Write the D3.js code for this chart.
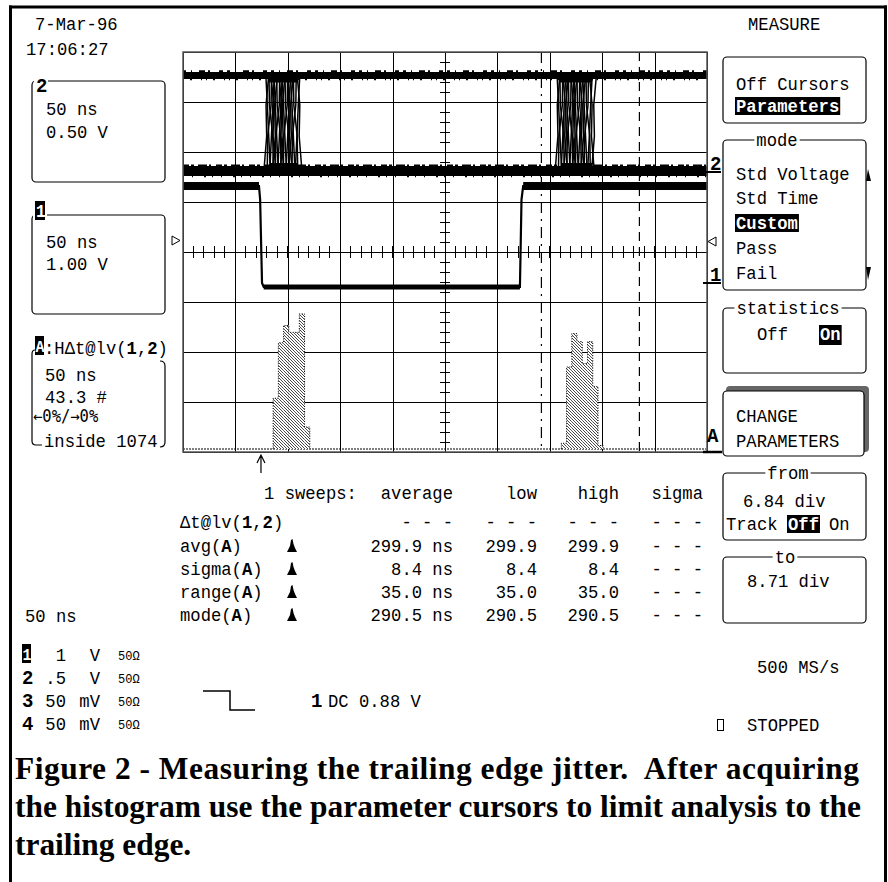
<!DOCTYPE html>
<html><head><meta charset="utf-8">
<script src="https://cdn.jsdelivr.net/npm/d3@7/dist/d3.min.js"></script>
<style>
html,body{margin:0;padding:0;background:#fff;}
svg text{font-family:"Liberation Mono","DejaVu Sans Mono",monospace;font-size:17.2px;fill:#000;white-space:pre;}
</style></head><body>
<svg id="c" width="888" height="882"></svg>
<script>
// ---------------- data ----------------
const dateLabel = "7-Mar-96";
const timeLabel = "17:06:27";
const nsPerDiv = 50;
const divsX = 10, divsY = 8;
// channel 1 (in divisions from screen centre)
const ch1Times  = [0, 72.5, 73.6, 75.4, 77.0, 321.5, 323.0, 324.6, 500];
const ch1Levels = [1.32, 1.32, 1.05, -0.62, -0.70, -0.70, 1.05, 1.32, 1.32];
// channel 2 levels (div) and jittered edge times (ns), overlaid sweeps
const ch2High = 3.53, ch2Low = 1.62;
const ch2EdgesA = [79.5, 81.2, 82.4, 84.1, 85.0, 86.3, 87.7, 88.8, 90.2, 91.5, 92.6, 93.9, 95.1, 96.6, 97.8, 99.4, 100.5, 101.9, 103.0, 104.7, 106.0, 107.4, 109.3, 111.2];
const ch2EdgesB = [357.4, 359.1, 360.3, 361.7, 363.0, 364.6, 365.5, 367.2, 368.3, 369.8, 371.0, 372.4, 373.7, 375.1, 376.5, 378.0, 379.2, 380.6, 381.9, 383.5, 384.8, 386.6, 388.3, 390.1, 392.2];
// histogram of Δt@lv(1,2)
const histBinNs = 5;
const hist1Start = 86,  hist1Counts = [44, 92, 107, 101, 101, 117, 19];
const hist2Start = 361, hist2Counts = [5, 71, 100, 93, 74, 93, 54, 3];
const histPerDiv = 43.3;
// parameter cursors (div) and trigger (ns)
const cursorFrom = 6.84, cursorTo = 8.71;
const triggerTime = 74.4;
// statistics table
const sweepsLabel = "1 sweeps:";
const statHeaders = ["average", "low", "high", "sigma"];
const statNames = ["avg", "sigma", "range", "mode"];
const statAverage = ["299.9 ns", "8.4 ns", "35.0 ns", "290.5 ns"];
const statLow = ["299.9", "8.4", "35.0", "290.5"];
const statHigh = ["299.9", "8.4", "35.0", "290.5"];
const statSigma = ["- - -", "- - -", "- - -", "- - -"];
// channel legend
const legendChan = ["1", "2", "3", "4"];
const legendVal = ["1", ".5", "50", "50"];
const legendUnit = ["V", "V", "mV", "mV"];
const legendImp = ["50Ω", "50Ω", "50Ω", "50Ω"];
const captionLines = [
  "Figure 2 - Measuring the trailing edge jitter.  After acquiring",
  "the histogram use the parameter cursors to limit analysis to the",
  "trailing edge."
];

// ---------------- drawing ----------------
const CW = 10.32;
const KY = 1.1; // vertical stretch of the scope font
const svg = d3.select("#c");
const defs = svg.append("defs");
const pat = defs.append("pattern").attr("id","hatch").attr("width",3).attr("height",3)
  .attr("patternUnits","userSpaceOnUse");
pat.append("rect").attr("width",3).attr("height",3).attr("fill","#fff");
pat.append("path").attr("d","M-1,-1 L4,4 M-1,2 L1,4 M2,-1 L4,1").attr("stroke","#333").attr("stroke-width",0.9);

function T(sel, x, y, str, o = {}) {
  const e = sel.append("text").attr("x", x).attr("y", y).text(str);
  if (o.anchor) e.attr("text-anchor", o.anchor);
  if (o.bold) e.attr("font-weight", "bold");
  if (o.size) e.style("font-size", o.size + "px");
  if (o.fill) e.style("fill", o.fill);
  if (o.family) e.style("font-family", o.family);
  if (!o.serif) e.attr("transform", `matrix(1,0,0,${KY},0,${y * (1 - KY)})`);
  return e;
}
function R(sel, x, y, parts, o = {}) {
  const e = sel.append("text").attr("x", x).attr("y", y)
    .attr("transform", `matrix(1,0,0,${KY},0,${y * (1 - KY)})`);
  if (o.anchor) e.attr("text-anchor", o.anchor);
  parts.forEach(p => {
    const s = e.append("tspan").text(p[0]);
    if (p[1]) s.attr("font-weight", "bold");
  });
  return e;
}
function INV(sel, x, y, str, o = {}) {
  const w = str.length * CW;
  sel.append("rect").attr("x", x - 1).attr("y", y - 15).attr("width", w + 2).attr("height", o.h || 18).attr("fill", "#000");
  return T(sel, x, y, str, {bold: true, fill: "#fff", size: o.size});
}

// outer frame
svg.append("rect").attr("x", 9).attr("y", 5.5).attr("width", 878).attr("height", 3).attr("fill", "#000");
svg.append("rect").attr("x", 9).attr("y", 5.5).attr("width", 3).attr("height", 877).attr("fill", "#000");
svg.append("rect").attr("x", 884).attr("y", 5.5).attr("width", 3).attr("height", 877).attr("fill", "#000");

// scales
const X0 = 183, X1 = 707, Y0 = 52, Y1 = 452;
const x = d3.scaleLinear().domain([0, divsX * nsPerDiv]).range([X0, X1]);
const xd = d3.scaleLinear().domain([0, divsX]).range([X0, X1]);
const y = d3.scaleLinear().domain([-divsY / 2, divsY / 2]).range([Y1, Y0]);
const histBase = y(-divsY / 2) - 3;
const yh = d3.scaleLinear().domain([0, histPerDiv]).range([0, 50]);

const g = svg.append("g");
// grid via axes
g.append("g").attr("transform", `translate(0,${Y1})`)
  .call(d3.axisBottom(xd).tickValues(d3.range(0, divsX + 1)).tickSize(-(Y1 - Y0)).tickFormat(""))
  .call(s => s.select(".domain").remove())
  .selectAll("line").attr("stroke", "#000").attr("shape-rendering", "crispEdges");
g.append("g").attr("transform", `translate(${X0},0)`)
  .call(d3.axisLeft(y).tickValues(d3.range(-divsY / 2, divsY / 2 + 1)).tickSize(-(X1 - X0)).tickFormat(""))
  .call(s => s.select(".domain").remove())
  .selectAll("line").attr("stroke", "#000").attr("shape-rendering", "crispEdges");
// centre-line minor ticks
g.append("g").selectAll("line").data(d3.range(0, divsX + 0.001, 0.2)).join("line")
  .attr("x1", d => xd(d)).attr("x2", d => xd(d)).attr("y1", y(0) - 6).attr("y2", y(0) + 6)
  .attr("stroke", "#000").attr("shape-rendering", "crispEdges");
g.append("g").selectAll("line").data(d3.range(-divsY / 2, divsY / 2 + 0.001, 0.2)).join("line")
  .attr("y1", d => y(d)).attr("y2", d => y(d)).attr("x1", xd(5) - 5).attr("x2", xd(5) + 5)
  .attr("stroke", "#000").attr("shape-rendering", "crispEdges");

// histogram baseline dotted
g.append("line").attr("x1", X0).attr("x2", X1 - 1).attr("y1", histBase).attr("y2", histBase)
  .attr("stroke", "#000").attr("stroke-dasharray", "2,1");

// histograms
function drawHist(start, counts) {
  const hg = g.append("g");
  hg.selectAll("rect").data(counts).join("rect")
    .attr("x", (d, i) => x(start + i * histBinNs))
    .attr("width", x(histBinNs) - x(0))
    .attr("y", d => histBase - yh(d))
    .attr("height", d => yh(d))
    .attr("fill", "url(#hatch)");
  const pts = [];
  counts.forEach((c, i) => {
    const xa = x(start + i * histBinNs), xb = x(start + (i + 1) * histBinNs);
    if (i === 0) pts.push([xa, histBase]);
    pts.push([xa, histBase - yh(c)]);
    pts.push([xb, histBase - yh(c)]);
  });
  pts.push([x(start + counts.length * histBinNs), histBase]);
  hg.append("path").attr("d", d3.line()(pts)).attr("fill", "none").attr("stroke", "#000").attr("stroke-dasharray", "1,1.5");
}
drawHist(hist1Start, hist1Counts);
drawHist(hist2Start, hist2Counts);

// channel 2: bands + overlaid jittered edges
const c2 = g.append("g");
function hband(yy, w, dash) {
  const l = c2.append("line").attr("x1", X0).attr("x2", X1).attr("y1", yy).attr("y2", yy).attr("stroke", "#000").attr("stroke-width", w);
  if (dash) l.attr("stroke-dasharray", dash);
}
hband(y(ch2High), 7);
hband(y(ch2Low), 10);
hband(y(ch2High) - 4.2, 2, "3,5,1,7,6,3,2,9,4,4");
hband(y(ch2High) + 4.0, 1.5, "1,6,2,9,1,4");
hband(y(ch2Low) - 5.6, 2, "6,2,3,4,9,2,2,5");
hband(y(ch2Low) + 5.6, 1.5, "1,8,1,11,2,6");
function drawEdges(edges) {
  const yt = y(ch2High) + 3, yb = y(ch2Low) - 4;
  edges.forEach((t, i) => {
    const dir = i % 2 ? 1 : -1;
    const pts = [
      [x(t - 2 * dir), yt],
      [x(t - 0.7 * dir) + (i % 3 - 1), yt + (yb - yt) * 0.3],
      [x(t + 0.6 * dir) - (i % 3 - 1), yt + (yb - yt) * 0.65],
      [x(t + 2 * dir), yb]
    ];
    c2.append("path").attr("d", d3.line()(pts)).attr("fill", "none").attr("stroke", "#000").attr("stroke-width", 1.5);
  });
  const xa = x(d3.min(edges)), xb = x(d3.max(edges));
  c2.append("rect").attr("x", xa + 2).attr("width", xb - xa - 4).attr("y", yt - 1).attr("height", 5).attr("fill", "#000");
  c2.append("rect").attr("x", xa + 4).attr("width", xb - xa - 6).attr("y", yb - 4).attr("height", 5).attr("fill", "#000");
}
drawEdges(ch2EdgesA);
drawEdges(ch2EdgesB);

// channel 1
const c1 = g.append("g");
const ch1Pts = ch1Times.map((t, i) => [x(t), y(ch1Levels[i])]);
c1.append("path").attr("d", d3.line()(ch1Pts)).attr("fill", "none").attr("stroke", "#000").attr("stroke-width", 2.2);
for (let i = 0; i < ch1Pts.length - 1; i++) {
  if (ch1Levels[i] === ch1Levels[i + 1]) {
    c1.append("line").attr("x1", ch1Pts[i][0]).attr("x2", ch1Pts[i + 1][0])
      .attr("y1", ch1Pts[i][1]).attr("y2", ch1Pts[i][1])
      .attr("stroke", "#000").attr("stroke-width", ch1Levels[i] > 0 ? 8 : 5);
  }
}

// cursors
g.append("line").attr("x1", xd(cursorFrom)).attr("x2", xd(cursorFrom)).attr("y1", Y0).attr("y2", Y1)
  .attr("stroke", "#000").attr("stroke-width", 1.2).attr("stroke-dasharray", "11,6,2,6");
g.append("line").attr("x1", xd(cursorTo)).attr("x2", xd(cursorTo)).attr("y1", Y0).attr("y2", Y1)
  .attr("stroke", "#000").attr("stroke-width", 1.2).attr("stroke-dasharray", "9,6");

// grid frame (grey)
g.append("rect").attr("x", X0).attr("y", Y0).attr("width", X1 - X0).attr("height", Y1 - Y0)
  .attr("fill", "none").attr("stroke", "#555").attr("stroke-width", 1.5);

// trigger arrow
const ax = x(triggerTime);
g.append("path").attr("d", `M${ax},473 V455 M${ax - 4},463 L${ax},455 L${ax + 4},463`).attr("fill", "none").attr("stroke", "#000").attr("stroke-width", 1.2);

// trace markers
g.append("path").attr("d", "M172,236 L180,240.5 L172,245 Z").attr("fill", "none").attr("stroke", "#000");
g.append("path").attr("d", "M716,237 L708,241.5 L716,246 Z").attr("fill", "none").attr("stroke", "#000");
T(svg, 710, 170, "2", {bold: true, size: 19});
svg.append("line").attr("x1", 703).attr("x2", 721).attr("y1", y(ch2Low) + 1).attr("y2", y(ch2Low) + 1).attr("stroke", "#000").attr("stroke-width", 2);
T(svg, 710, 281, "1", {bold: true, size: 19});
svg.append("line").attr("x1", 703).attr("x2", 721).attr("y1", 283).attr("y2", 283).attr("stroke", "#000").attr("stroke-width", 2);
T(svg, 707, 442, "A", {bold: true, size: 19});
svg.append("line").attr("x1", 703).attr("x2", 722).attr("y1", 452).attr("y2", 452).attr("stroke", "#000").attr("stroke-width", 2.5);

// ---------- left panel ----------
T(svg, 35, 30, dateLabel);
T(svg, 26, 55, timeLabel);
function box(x0, y0, w, h) {
  svg.append("rect").attr("x", x0).attr("y", y0).attr("width", w).attr("height", h).attr("rx", 4)
    .attr("fill", "none").attr("stroke", "#000").attr("stroke-width", 1.2);
}
box(32, 81, 133, 101);
svg.append("rect").attr("x", 34).attr("y", 76).attr("width", 14).attr("height", 18).attr("fill", "#fff");
T(svg, 36, 92, "2", {bold: true, size: 19});
T(svg, 46, 115, "50 ns");
T(svg, 46, 138, "0.50 V");
box(32, 215, 133, 99);
svg.append("rect").attr("x", 33).attr("y", 200).attr("width", 14).attr("height", 20).attr("fill", "#fff");
svg.append("rect").attr("x", 35).attr("y", 201).attr("width", 10).attr("height", 19).attr("fill", "#000");
T(svg, 36, 217, "1", {bold: true, fill: "#fff", size: 16});
T(svg, 46, 248, "50 ns");
T(svg, 46, 270, "1.00 V");
// box A (brackets)
svg.append("path").attr("d", "M35,350 Q32,350 32,354 L32,441 Q32,445 36,445 L42,445").attr("fill", "none").attr("stroke", "#000").attr("stroke-width", 1.2);
svg.append("path").attr("d", "M160,361 Q165,361 165,366 L165,442 Q165,447 160,447").attr("fill", "none").attr("stroke", "#000").attr("stroke-width", 1.2);
svg.append("rect").attr("x", 35).attr("y", 336).attr("width", 9).attr("height", 19).attr("fill", "#000");
T(svg, 35.5, 352, "A", {bold: true, fill: "#fff", size: 15});
R(svg, 44, 354, [[":HΔt@lv(", 0], ["1", 1], [",", 0], ["2", 1], [")", 0]]);
T(svg, 45, 381, "50 ns");
T(svg, 45, 403, "43.3 #");
T(svg, 33, 422, "←0%/→0%", {family: '"DejaVu Sans Mono",monospace', size: 15.5});
T(svg, 44, 447, "inside 1074");

// ---------- statistics table ----------
const colEnds = [453, 537, 619, 703];
const rowY = [499, 528, 552, 575, 598, 621];
T(svg, 264, rowY[0], sweepsLabel);
statHeaders.forEach((h, i) => T(svg, colEnds[i], rowY[0], h, {anchor: "end"}));
R(svg, 180, rowY[1], [["Δt@lv(", 0], ["1", 1], [",", 0], ["2", 1], [")", 0]]);
colEnds.forEach(c => T(svg, c, rowY[1], "- - -", {anchor: "end"}));
function histIcon(x0, yb) {
  svg.append("path").attr("d", `M${x0},${yb} L${x0 + 2},${yb - 4} L${x0 + 3},${yb - 6} L${x0 + 4},${yb - 12} L${x0 + 5.5},${yb - 13} L${x0 + 6.5},${yb - 8} L${x0 + 8},${yb - 4} L${x0 + 10},${yb} Z`).attr("fill", "#000");
}
statNames.forEach((n, i) => {
  const yy = rowY[i + 2];
  R(svg, 180, yy, [[n + "(", 0], ["A", 1], [")", 0]]);
  histIcon(287, yy);
  T(svg, colEnds[0], yy, statAverage[i], {anchor: "end"});
  T(svg, colEnds[1], yy, statLow[i], {anchor: "end"});
  T(svg, colEnds[2], yy, statHigh[i], {anchor: "end"});
  T(svg, colEnds[3], yy, statSigma[i], {anchor: "end"});
});
T(svg, 25, 622, "50 ns");

// ---------- channel legend ----------
const legY = [661, 684, 707, 730];
legendChan.forEach((c, i) => {
  if (i === 0) {
    svg.append("rect").attr("x", 22).attr("y", legY[i] - 17).attr("width", 9).attr("height", 19).attr("fill", "#000");
    T(svg, 22.5, legY[i] - 1, c, {bold: true, fill: "#fff", size: 15});
  } else {
    T(svg, 22, legY[i], c, {bold: true, size: 19});
  }
  T(svg, 66, legY[i], legendVal[i], {anchor: "end"});
  T(svg, 100, legY[i], legendUnit[i], {anchor: "end"});
  T(svg, 118, legY[i] - 1, legendImp[i], {size: 12});
});
svg.append("path").attr("d", "M203,691 H230 V710 H255").attr("fill", "none").attr("stroke", "#000").attr("stroke-width", 1.5);
T(svg, 311, 707, "1", {bold: true, size: 19});
T(svg, 328, 707, "DC 0.88 V");

// ---------- right panel ----------
T(svg, 748, 30, "MEASURE");
box(723, 57, 143, 66);
T(svg, 736, 90, "Off Cursors");
INV(svg, 736, 112, "Parameters");
function titledBox(x0, y0, w, h, title, tx) {
  box(x0, y0, w, h);
  const tw = title.length * CW;
  svg.append("rect").attr("x", tx - tw / 2 - 2).attr("y", y0 - 3).attr("width", tw + 4).attr("height", 6).attr("fill", "#fff");
  T(svg, tx, y0 + 6, title, {anchor: "middle"});
}
titledBox(723, 140, 143, 150, "mode", 777);
T(svg, 736, 180, "Std Voltage");
T(svg, 736, 204, "Std Time");
INV(svg, 736, 229, "Custom");
T(svg, 736, 254, "Pass");
T(svg, 736, 279, "Fail");
svg.append("path").attr("d", "M866,181 L868,169 L871,181 Z").attr("fill", "#000");
svg.append("path").attr("d", "M866,267 L871,267 L868,280 Z").attr("fill", "#000");
titledBox(723, 308, 143, 65, "statistics", 788);
T(svg, 757, 340, "Off");
INV(svg, 820, 340, "On", {h: 20});
// change parameters (shadowed)
svg.append("rect").attr("x", 726).attr("y", 386).attr("width", 143).attr("height", 66).attr("rx", 4).attr("fill", "#666");
svg.append("rect").attr("x", 723).attr("y", 391).attr("width", 141).attr("height", 65).attr("rx", 4).attr("fill", "#fff").attr("stroke", "#000").attr("stroke-width", 1.2);
T(svg, 736, 422, "CHANGE");
T(svg, 736, 447, "PARAMETERS");
titledBox(723, 473, 143, 67, "from", 788);
T(svg, 743, 507, "6.84 div");
T(svg, 726, 530, "Track");
INV(svg, 788, 530, "Off");
T(svg, 829, 530, "On");
titledBox(723, 557, 143, 66, "to", 785);
T(svg, 747, 587, "8.71 div");
T(svg, 757, 673, "500 MS/s");
svg.append("rect").attr("x", 717.5).attr("y", 719.5).attr("width", 6).attr("height", 11).attr("fill", "none").attr("stroke", "#000");
T(svg, 747, 731, "STOPPED");

// ---------- caption ----------
const capBase = [779, 817, 855];
const capW = [844, 846, null];
const capFam = '"Liberation Serif","Times New Roman",serif';
const cap = svg.append("g");
const capEls = captionLines.map((l, i) => T(cap, 15, capBase[i], l, {bold: true, family: capFam, size: 32, serif: true}));
let fs = 32;
capEls.forEach((e, i) => {
  if (capW[i]) fs = Math.min(fs, 32 * capW[i] / e.node().getComputedTextLength());
});
capEls.forEach((e, i) => {
  e.style("font-size", fs + "px");
  if (capW[i]) e.attr("textLength", capW[i]).attr("lengthAdjust", "spacing");
});
</script>
</body></html>
